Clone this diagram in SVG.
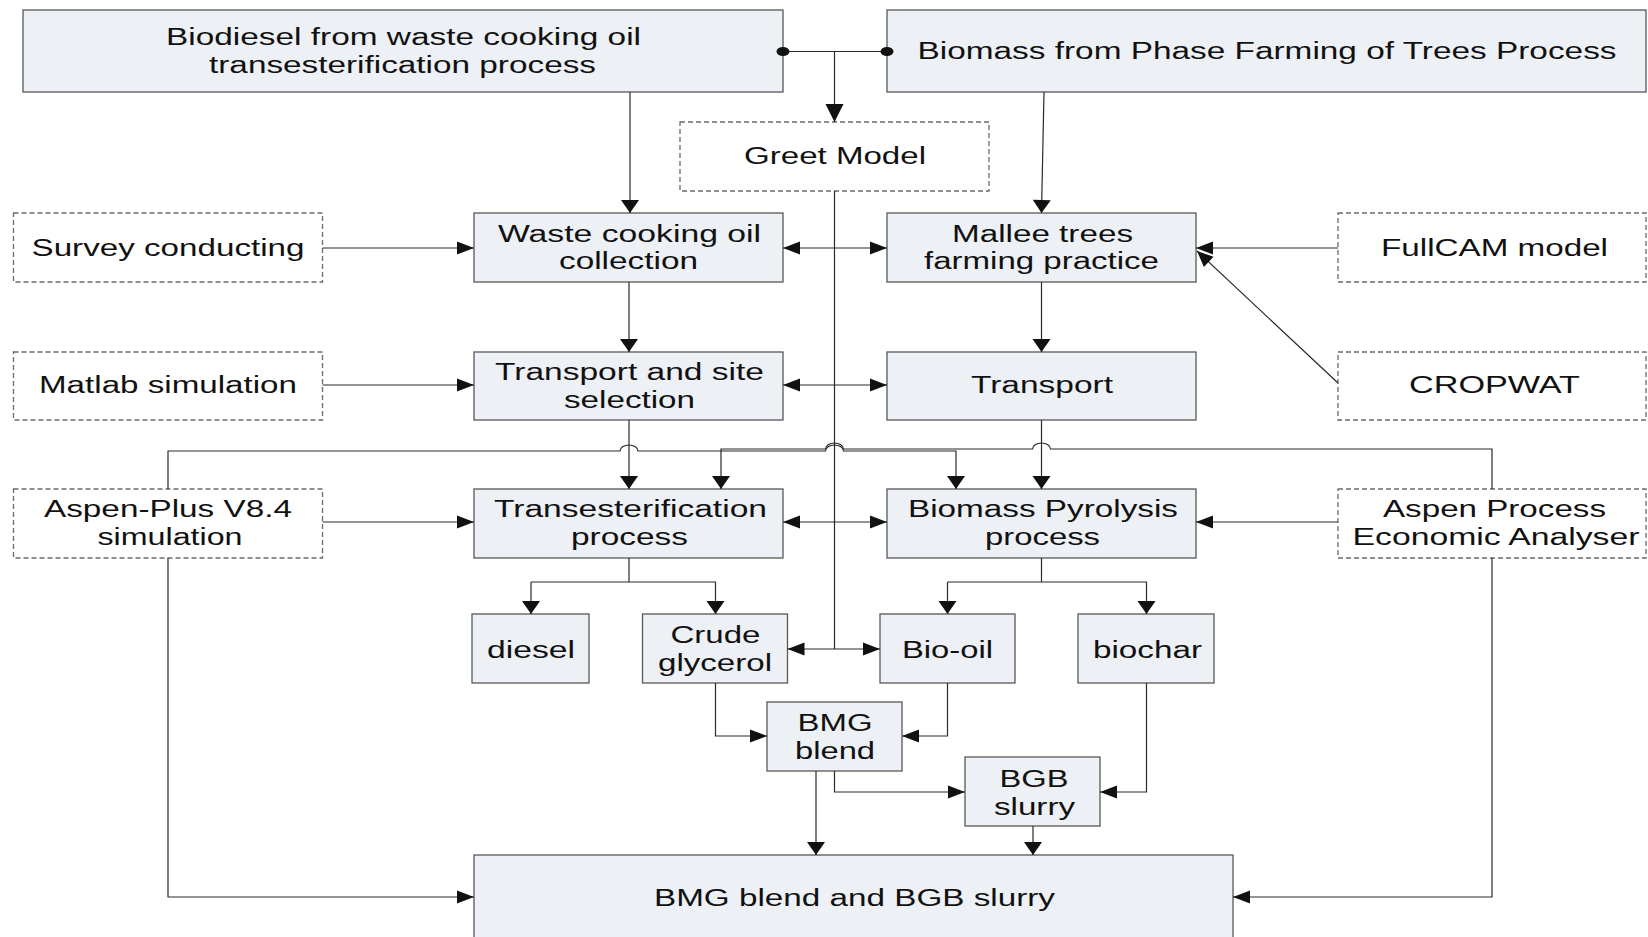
<svg xmlns="http://www.w3.org/2000/svg" width="1648" height="937" viewBox="0 0 1648 937">
  <defs>
    <style>
      .box { fill: #edf0f5; stroke: #585858; stroke-width: 1.3; }
      .tool { fill: #ffffff; stroke: #6a6a6a; stroke-width: 1.3; stroke-dasharray: 5 3; }
      .lbl { font-family: "Liberation Sans", Arial, sans-serif; font-size: 23px; fill: #111111; text-anchor: middle; }
      .wire { fill: none; stroke: #2a2a2a; stroke-width: 1.2; }
      .h { marker-end: url(#ah); }
      .hh { marker-start: url(#ah); marker-end: url(#ah); }
      .v { marker-end: url(#av); }
    </style>
    <!-- horizontal-style arrowhead: long and narrow -->
    <marker id="ah" markerUnits="userSpaceOnUse" markerWidth="17" markerHeight="13" refX="17" refY="6.5" orient="auto-start-reverse" overflow="visible">
      <path d="M0,0 L17,6.5 L0,13 Z" fill="#111111"/>
    </marker>
    <!-- vertical-style arrowhead: short and wide -->
    <marker id="av" markerUnits="userSpaceOnUse" markerWidth="13" markerHeight="18" refX="13" refY="9" orient="auto" overflow="visible">
      <path d="M0,0 L13,9 L0,18 Z" fill="#111111"/>
    </marker>
    <marker id="abig" markerUnits="userSpaceOnUse" markerWidth="18" markerHeight="18" refX="18" refY="9" orient="auto" overflow="visible">
      <path d="M0,0 L18,9 L0,18 Z" fill="#111111"/>
    </marker>
    <marker id="adiag" markerUnits="userSpaceOnUse" markerWidth="16" markerHeight="14" refX="16" refY="7" orient="auto" overflow="visible">
      <path d="M0,0 L16,7 L0,14 Z" fill="#111111"/>
    </marker>
  </defs>

  <rect width="1648" height="937" fill="#ffffff"/>

  <!-- sources -->
  <g id="biodiesel-source">
    <rect class="box" x="23" y="10" width="760" height="82"/>
    <text class="lbl" x="403.5" y="45" textLength="475" lengthAdjust="spacingAndGlyphs">Biodiesel from waste cooking oil</text>
    <text class="lbl" x="402.5" y="73" textLength="387" lengthAdjust="spacingAndGlyphs">transesterification process</text>
  </g>
  <g id="biomass-source">
    <rect class="box" x="887" y="10" width="759" height="82"/>
    <text class="lbl" x="1267" y="59" textLength="699" lengthAdjust="spacingAndGlyphs">Biomass from Phase Farming of Trees Process</text>
  </g>
  <g id="greet-model">
    <rect class="tool" x="680" y="122" width="309" height="69"/>
    <text class="lbl" x="835" y="164" textLength="182" lengthAdjust="spacingAndGlyphs">Greet Model</text>
  </g>

  <!-- row 1 -->
  <g id="survey-conducting">
    <rect class="tool" x="13.5" y="213" width="309" height="69"/>
    <text class="lbl" x="168" y="256" textLength="273" lengthAdjust="spacingAndGlyphs">Survey conducting</text>
  </g>
  <g id="wco-collection">
    <rect class="box" x="474" y="213" width="309" height="69"/>
    <text class="lbl" x="629.5" y="241.5" textLength="263" lengthAdjust="spacingAndGlyphs">Waste cooking oil</text>
    <text class="lbl" x="628.5" y="269" textLength="139" lengthAdjust="spacingAndGlyphs">collection</text>
  </g>
  <g id="mallee-farming">
    <rect class="box" x="887" y="213" width="309" height="69"/>
    <text class="lbl" x="1042.5" y="241.5" textLength="181" lengthAdjust="spacingAndGlyphs">Mallee trees</text>
    <text class="lbl" x="1041.5" y="269" textLength="235" lengthAdjust="spacingAndGlyphs">farming practice</text>
  </g>
  <g id="fullcam-model">
    <rect class="tool" x="1338" y="213" width="308" height="69"/>
    <text class="lbl" x="1494.5" y="256" textLength="227" lengthAdjust="spacingAndGlyphs">FullCAM model</text>
  </g>

  <!-- row 2 -->
  <g id="matlab-simulation">
    <rect class="tool" x="13.5" y="352" width="309" height="68"/>
    <text class="lbl" x="168" y="393" textLength="258" lengthAdjust="spacingAndGlyphs">Matlab simulation</text>
  </g>
  <g id="transport-site">
    <rect class="box" x="474" y="352" width="309" height="68"/>
    <text class="lbl" x="629.5" y="380" textLength="269" lengthAdjust="spacingAndGlyphs">Transport and site</text>
    <text class="lbl" x="629.5" y="407.5" textLength="131" lengthAdjust="spacingAndGlyphs">selection</text>
  </g>
  <g id="transport">
    <rect class="box" x="887" y="352" width="309" height="68"/>
    <text class="lbl" x="1042" y="393" textLength="142" lengthAdjust="spacingAndGlyphs">Transport</text>
  </g>
  <g id="cropwat">
    <rect class="tool" x="1338" y="352" width="308" height="68"/>
    <text class="lbl" x="1494.5" y="393" textLength="171" lengthAdjust="spacingAndGlyphs">CROPWAT</text>
  </g>

  <!-- row 3 -->
  <g id="aspen-plus">
    <rect class="tool" x="13.5" y="489" width="309" height="69"/>
    <text class="lbl" x="168" y="517" textLength="248" lengthAdjust="spacingAndGlyphs">Aspen-Plus V8.4</text>
    <text class="lbl" x="170" y="545" textLength="145" lengthAdjust="spacingAndGlyphs">simulation</text>
  </g>
  <g id="transesterification">
    <rect class="box" x="474" y="489" width="309" height="69"/>
    <text class="lbl" x="630.5" y="517" textLength="273" lengthAdjust="spacingAndGlyphs">Transesterification</text>
    <text class="lbl" x="629.5" y="545" textLength="117" lengthAdjust="spacingAndGlyphs">process</text>
  </g>
  <g id="pyrolysis">
    <rect class="box" x="887" y="489" width="309" height="69"/>
    <text class="lbl" x="1043" y="517" textLength="270" lengthAdjust="spacingAndGlyphs">Biomass Pyrolysis</text>
    <text class="lbl" x="1042.5" y="545" textLength="115" lengthAdjust="spacingAndGlyphs">process</text>
  </g>
  <g id="aspen-economic">
    <rect class="tool" x="1338" y="489" width="308" height="69"/>
    <text class="lbl" x="1494.5" y="517" textLength="223" lengthAdjust="spacingAndGlyphs">Aspen Process</text>
    <text class="lbl" x="1496" y="545" textLength="287" lengthAdjust="spacingAndGlyphs">Economic Analyser</text>
  </g>

  <!-- products -->
  <g id="diesel">
    <rect class="box" x="472" y="614" width="117" height="69"/>
    <text class="lbl" x="531" y="658" textLength="88" lengthAdjust="spacingAndGlyphs">diesel</text>
  </g>
  <g id="crude-glycerol">
    <rect class="box" x="642.5" y="614" width="145" height="69"/>
    <text class="lbl" x="715.5" y="643" textLength="90" lengthAdjust="spacingAndGlyphs">Crude</text>
    <text class="lbl" x="715" y="671" textLength="114" lengthAdjust="spacingAndGlyphs">glycerol</text>
  </g>
  <g id="bio-oil">
    <rect class="box" x="880" y="614" width="135" height="69"/>
    <text class="lbl" x="947.5" y="658" textLength="91" lengthAdjust="spacingAndGlyphs">Bio-oil</text>
  </g>
  <g id="biochar">
    <rect class="box" x="1078" y="614" width="136" height="69"/>
    <text class="lbl" x="1147.5" y="658" textLength="109" lengthAdjust="spacingAndGlyphs">biochar</text>
  </g>

  <!-- blends -->
  <g id="bmg-blend">
    <rect class="box" x="767" y="702" width="135" height="69"/>
    <text class="lbl" x="835" y="731" textLength="75" lengthAdjust="spacingAndGlyphs">BMG</text>
    <text class="lbl" x="835" y="758.5" textLength="80" lengthAdjust="spacingAndGlyphs">blend</text>
  </g>
  <g id="bgb-slurry">
    <rect class="box" x="965" y="757" width="135" height="69"/>
    <text class="lbl" x="1034" y="787" textLength="69" lengthAdjust="spacingAndGlyphs">BGB</text>
    <text class="lbl" x="1034.5" y="815" textLength="81" lengthAdjust="spacingAndGlyphs">slurry</text>
  </g>
  <g id="final-product">
    <rect class="box" x="474" y="855" width="759" height="90"/>
    <text class="lbl" x="854.5" y="906" textLength="401" lengthAdjust="spacingAndGlyphs">BMG blend and BGB slurry</text>
  </g>

  <!-- connectors (drawn on top so the junction dots sit over the box edges) -->
  <g id="connectors">
    <!-- top source link to Greet Model -->
    <path class="wire" d="M783,51.5 H887"/>
    <ellipse cx="783" cy="51.5" rx="6.5" ry="4.5" fill="#111111"/>
    <ellipse cx="887" cy="51.5" rx="6.5" ry="4.5" fill="#111111"/>
    <path class="wire" d="M834.5,51.5 V122" marker-end="url(#abig)"/>

    <!-- sources to first stages -->
    <path class="wire v" d="M630,92 V213"/>
    <path class="wire v" d="M1044,92 L1041.5,213"/>

    <!-- Greet Model trunk -->
    <path class="wire" d="M834.5,191 V649"/>

    <!-- row 1 -->
    <path class="wire h" d="M322.5,248 H474"/>
    <path class="wire hh" d="M783,248 H887"/>
    <path class="wire h" d="M1338,248 H1196"/>
    <path class="wire" d="M1338,383 L1197,251" marker-end="url(#adiag)"/>
    <path class="wire v" d="M629,282 V352"/>
    <path class="wire v" d="M1041.5,282 V352"/>

    <!-- row 2 -->
    <path class="wire h" d="M322.5,385 H474"/>
    <path class="wire hh" d="M783,385 H887"/>
    <path class="wire v" d="M629,420 V489"/>
    <path class="wire v" d="M1041.5,420 V489"/>

    <!-- cross links from the simulation tools, hopping over crossings -->
    <path class="wire v" d="M168,489 V451 H620 A9,6 0 0 1 638,451 H825.5 A9,6 0 0 1 843.5,451 H956 V489"/>
    <path class="wire v" d="M1492,489 V449 H1050.5 A9,6 0 0 0 1032.5,449 H843.5 A9,6 0 0 0 825.5,449 H721 V489"/>

    <!-- row 3 -->
    <path class="wire h" d="M322.5,522 H474"/>
    <path class="wire hh" d="M783,522 H887"/>
    <path class="wire h" d="M1338,522 H1196"/>

    <!-- product splits -->
    <path class="wire" d="M629,558 V582"/>
    <path class="wire v" d="M531,582 V614"/>
    <path class="wire v" d="M531,582 H715.5 V614"/>
    <path class="wire" d="M1041.5,558 V582"/>
    <path class="wire v" d="M947.5,582 V614"/>
    <path class="wire v" d="M947.5,582 H1146.5 V614"/>
    <path class="wire hh" d="M787.5,649 H880"/>

    <!-- blending -->
    <path class="wire h" d="M715.5,683 V736 H767"/>
    <path class="wire h" d="M947.5,683 V736 H902"/>
    <path class="wire h" d="M834.5,771 V792 H965"/>
    <path class="wire h" d="M1146.5,683 V792 H1100"/>
    <path class="wire v" d="M816,771 V855"/>
    <path class="wire v" d="M1033,826 V855"/>

    <!-- side tools to final product -->
    <path class="wire h" d="M168,558 V897 H474"/>
    <path class="wire h" d="M1492,558 V897 H1233"/>
  </g>
</svg>
